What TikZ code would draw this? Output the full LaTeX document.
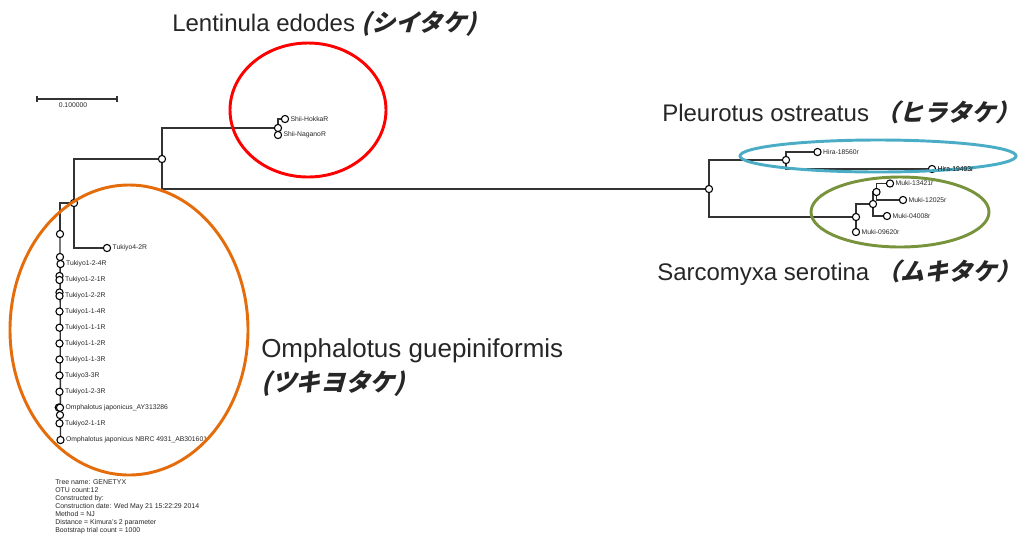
\documentclass[tikz,border=0pt]{standalone}
\usepackage{fontspec}
\setmainfont{Liberation Sans}
\newfontfamily\jp[FakeSlant=0.28]{Noto Sans CJK JP}
\usetikzlibrary{backgrounds}
\definecolor{ringred}{HTML}{FF0000}
\definecolor{ringorange}{HTML}{E46C0A}
\definecolor{ringblue}{HTML}{4BACC6}
\definecolor{ringgreen}{HTML}{77933C}
\tikzset{
  edge/.style={draw=black!80, line width=0.8pt},
  dot/.style={circle, draw=black, fill=white, line width=0.8pt, inner sep=0pt, minimum size=5.4pt},
  leaflab/.style={anchor=west, inner sep=0pt, text=black!85, font=\fontsize{5.1}{6}\selectfont},
  big/.style={anchor=base west, inner sep=0pt, text=black!85, font=\fontsize{18}{22}\selectfont},
  ring/.style={line width=2.2pt},
}
\newcommand\leaf[4]{\node[dot] (#1) at (#2,#3) {}; \node[leaflab] (#1l) at ([xshift=0.9pt]#1.east) {#4};}
\begin{document}
\begin{tikzpicture}[x=0.75pt,y=-0.75pt]
\useasboundingbox (0,0) rectangle (1025,537);
% scale bar
\coordinate (sb1) at (37,99);
\coordinate (sb2) at (117,99);
\draw[edge] (sb1) -- (sb2);
\draw[edge] ([yshift=2.2pt]sb1) -- ([yshift=-2.2pt]sb1);
\draw[edge] ([yshift=2.2pt]sb2) -- ([yshift=-2.2pt]sb2);
\node[inner sep=0pt, font=\fontsize{5.1}{6}\selectfont, text=black!85] (sblab) at (73,105.5) {0.100000};
% internal nodes
\node[dot] (nA) at (162,159) {};
\node[dot] (nS) at (278,128) {};
\node[dot] (nR) at (709,189) {};
\node[dot] (nH) at (786,160) {};
\node[dot] (nM) at (856,217) {};
\node[dot] (nM2) at (873,204) {};
\node[dot] (nM3) at (876.5,192) {};
\node[dot] (nB) at (74,203) {};
\node[dot] (nC) at (60,234) {};
\node[dot] (nD) at (60,257) {};
\node[dot] (nE) at (59.5,276) {};
\node[dot] (nF) at (59.5,292.5) {};
\node[dot] (nG) at (58.8,407.5) {};
\node[dot] (nI) at (60,415) {};
% leaves
\leaf{sH}{285}{119}{Shii-HokkaR}
\leaf{sN}{278}{135}{Shii-NaganoR}
\leaf{h1}{817.5}{152}{Hira-18560r}
\leaf{h2}{932}{169}{Hira-19493r}
\leaf{m1}{890}{183.5}{Muki-13421r}
\leaf{m2}{903}{200}{Muki-12025r}
\leaf{m3}{887}{216}{Muki-04008r}
\leaf{m4}{856}{232}{Muki-09620r}
\leaf{t42}{107}{248}{Tukiyo4-2R}
\leaf{t1}{60.5}{264}{Tukiyo1-2-4R}
\leaf{t2}{59.5}{280}{Tukiyo1-2-1R}
\leaf{t3}{59.5}{296}{Tukiyo1-2-2R}
\leaf{t4}{59.5}{311.5}{Tukiyo1-1-4R}
\leaf{t5}{59.5}{327.7}{Tukiyo1-1-1R}
\leaf{t6}{59.5}{343.5}{Tukiyo1-1-2R}
\leaf{t7}{59.5}{359.5}{Tukiyo1-1-3R}
\leaf{t8}{59.5}{375.5}{Tukiyo3-3R}
\leaf{t9}{59.5}{391.7}{Tukiyo1-2-3R}
\leaf{t10}{60}{407.7}{Omphalotus japonicus\_AY313286}
\leaf{t11}{59.5}{423.3}{Tukiyo2-1-1R}
\leaf{t12}{60.5}{440}{Omphalotus japonicus NBRC 4931\_AB301601}
% edges
\begin{pgfonlayer}{background}
\draw[edge] (nA.center) |- (nS.center);
\draw[edge] (nA.center) |- (nR.center);
\draw[edge] (nA.center) -| (nB.center);
\draw[edge] (nS.center) |- (sH.center);
\draw[edge] (nS.center) -- (sN.center);
\draw[edge] (nR.center) |- (nH.center);
\draw[edge] (nR.center) |- (nM.center);
\draw[edge] (nH.center) |- (h1.center);
\draw[edge] (nH.center) |- (h2.center);
\draw[edge] (nM.center) |- (nM2.center);
\draw[edge] (nM.center) -- (m4.center);
\draw[edge] (nM2.center) |- (nM3.center);
\draw[edge] (nM2.center) |- (m3.center);
\draw[edge] (nM3.center) |- (m1.center);
\draw[edge] (nM3.center) |- (m2.center);
\draw[edge] (nB.center) |- (t42.center);
\draw[edge] (nB.center) -| (nC.center);
\draw[edge, line width=1pt] (nC.center) -- (t12.center);
\end{pgfonlayer}
% run info
\node[anchor=north west, inner sep=0pt, align=left, text=black!85, font=\fontsize{5.2}{5.95}\selectfont] (info) at (55,479.5) {Tree name: GENETYX\\OTU count:12\\Constructed by:\\Construction date: Wed May 21 15:22:29 2014\\Method = NJ\\Distance = Kimura's 2 parameter\\Bootstrap trial count = 1000};
% group rings
\draw[ring, ringred] (308,110) ellipse [x radius=78, y radius=67];
\draw[ring, ringorange] (129,330) ellipse [x radius=119, y radius=145];
\draw[ring, ringblue] (878,156) ellipse [x radius=138, y radius=16];
\draw[ring, ringgreen] (900,212) ellipse [x radius=89, y radius=35];
\node[leaflab] (h2l2) at (h2l.west) {Hira-19493r};
% species labels
\node[big] (labL) at (172,31.5) {Lentinula edodes {\jp\bfseries (シイタケ)}};
\node[big] (labP) at (662,121) {Pleurotus ostreatus {\jp\bfseries （ヒラタケ）}};
\node[big] (labS) at (657,280) {Sarcomyxa serotina {\jp\bfseries （ムキタケ）}};
\node[big, font=\fontsize{19.5}{24}\selectfont] (labO1) at (261,357) {Omphalotus guepiniformis};
\node[big, font=\fontsize{18.5}{24}\selectfont] (labO2) at (261,391) {\jp\bfseries (ツキヨタケ)};
\end{tikzpicture}
\end{document}
